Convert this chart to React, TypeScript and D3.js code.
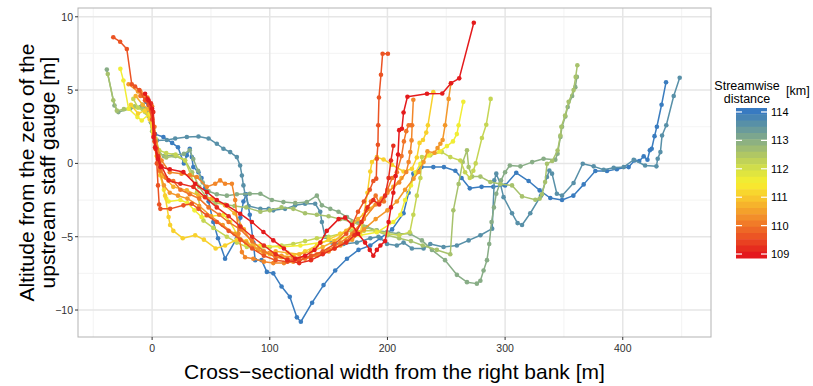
import React from 'react';
import * as d3 from 'd3';

type P = [number, number];

const xTicks = [0, 100, 200, 300, 400];
const yTicks = [-10, -5, 0, 5, 10];
const xMinor = [-50, 50, 150, 250, 350, 450];
const yMinor = [-7.5, -2.5, 2.5, 7.5];
const legendTicks = [109, 110, 111, 112, 113, 114];
const kmStops = [109, 109.5, 110, 110.5, 111, 111.5, 112, 112.5, 113, 113.5, 114];
const colorStops = ['#e41a1c', '#ea4a22', '#f07528', '#f4a02b', '#f8c92d', '#f8f02f', '#d4df48', '#afc765', '#88ad86', '#5f95a2', '#3a7cbf'];

const kmValues = [114.0, 113.6, 113.0, 112.6, 112.2, 111.6, 111.1, 110.7, 110.4, 110.2, 110.0, 109.6, 109.2, 109.0];

const sec114_0: P[] = [[-5,4.2],[-3,3.6],[0,2.8],[2.5,2.0],[9.6,1.8],[17,1.4],[22,1.1],[27,0.0],[29.5,0.55],[32,1.0],[33.7,0.43],[35,-0.25],[39.4,-0.6],[42,-1.0],[45,-1.7],[48,-2.6],[52,-4.0],[56,-5.1],[62,-6.5],[72,-5.1],[75,-3.7],[77.6,-2.6],[80,-2.1],[83,-3.5],[86,-5.4],[87.6,-6.6],[93,-6.6],[97.5,-7.4],[103,-7.5],[110,-8.4],[117,-9.1],[123,-10.5],[126.4,-10.8],[136,-9.5],[145.7,-8.3],[155.6,-7.3],[165.6,-6.5],[175.4,-5.9],[185.4,-5.6],[194,-5.1],[204,-4.5],[213.7,-3.4],[218,-2.0],[222,-0.7],[229,-0.25],[239,-0.25],[248,-0.25],[257.7,-0.5],[263,-1.0],[270,-1.7],[280,-1.6],[290,-1.6],[300,-1.5],[309.5,-0.64],[320,-1.2],[329.4,-1.84],[338.4,-2.36],[348.4,-2.5],[358,-2.2],[366.8,-1.43],[376.7,-0.52],[386.6,-0.52],[395,-0.39],[405,-0.25],[410,0.2],[414,0.16],[417.8,0.48],[421,0.25],[423,0.9],[424.6,1.0],[427,1.86],[429,2.5],[433,4.0],[436.8,5.54]];
const sec113_6: P[] = [[-8,4.0],[-4,3.4],[-1,2.8],[2,1.7],[4,1.57],[12.5,1.6],[19.6,1.7],[29.5,1.8],[39.4,1.84],[48,1.7],[55,1.34],[60.6,1.0],[66.3,0.77],[72,0.43],[74.8,-0.14],[76.3,-0.82],[77.6,-1.5],[79,-2.1],[82,-2.9],[92,-3.1],[99,-3.1],[103,-3.2],[113,-3.1],[121.6,-2.86],[130,-2.75],[138.6,-2.75],[142.9,-3.3],[144.3,-4.0],[147,-5.0],[152.8,-5.4],[162.7,-5.5],[174,-5.4],[185.4,-5.1],[192.4,-5.0],[199.6,-5.5],[208,-5.6],[213.7,-5.4],[220.8,-5.8],[230.7,-5.8],[236.4,-5.5],[247.7,-5.7],[259,-5.6],[269,-5.25],[279,-4.9],[289,-4.45],[290.8,-1.16],[292.5,-0.7],[296,-1.4],[298.7,-2.3],[305.9,-3.4],[310.6,-4.07],[314.4,-4.2],[321.4,-3.4],[330.5,-2.2],[335.6,-0.93],[337.6,-0.48],[339.9,-0.7],[344,-2.07],[348.4,-2.2],[358.2,-1.34],[366,-0.02],[375.3,-0.2],[383.8,-0.43],[392.3,-0.3],[400.8,-0.25],[409.3,0.25],[419,-0.14],[428.6,-0.2],[429.7,0.32],[432,0.77],[433.4,1.9],[437,2.6],[443.3,4.6],[448.4,5.84]];
const sec113_0: P[] = [[-38.5,6.4],[-32,3.95],[-28.7,3.5],[-18.7,3.73],[-10,3.84],[-5,3.7],[-1,3.0],[2,1.6],[5,0.8],[10,0.5],[18,0.55],[27,0.65],[32,0.9],[35,0.3],[39,-0.5],[43,-1.3],[48,-1.9],[55,-2.1],[63.5,-2.2],[72,-2.1],[83,-2.07],[92,-2.07],[101.8,-2.5],[111.6,-2.64],[121.6,-2.7],[131.5,-2.64],[140,-2.2],[144.3,-2.86],[151.4,-3.1],[158.4,-3.3],[165.6,-3.66],[174,-4.0],[182.6,-4.34],[191,-4.57],[199.6,-4.68],[209.4,-4.8],[219.4,-4.8],[229.3,-5.25],[237.8,-5.9],[249,-6.6],[259,-7.6],[267.6,-8.1],[276,-8.2],[279,-8.0],[281.7,-7.3],[284.6,-6.6],[286.5,-5.5],[288.5,-4.0],[290.5,-3.0],[292.5,-2.07],[296.5,-1.16],[300,-0.6],[304,-0.14],[313,-0.2],[323,0.09],[332.7,0.32],[342.7,0.25],[344.6,0.66],[347,1.8],[348.4,2.5],[351.2,3.2],[353.2,3.84],[357,4.6],[359.7,5.2],[361,5.9]];
const sec112_6: P[] = [[-37.7,6.1],[-33,4.3],[-30,3.6],[-24,3.7],[-15,3.9],[-8,3.7],[-3,3.2],[0,2.2],[3,1.2],[6,0.7],[12,0.4],[20,0.5],[28,0.2],[34,-0.6],[40,-1.6],[46,-2.3],[54,-2.7],[62,-2.8],[70,-2.9],[80,-3.0],[92,-3.3],[100,-3.2],[110,-3.0],[120,-3.1],[130,-3.4],[140,-3.5],[150,-3.6],[160,-3.8],[170,-4.0],[180,-4.3],[190,-4.6],[200,-4.9],[210,-5.1],[220,-5.3],[230,-5.6],[242,-5.9],[253.4,-6.2],[256,-3.2],[260.5,-1.4],[264,0.1],[267.6,0.9],[269,-0.25],[272,-0.9],[279,-0.9],[287.4,-1.27],[296,-1.4],[305.9,-1.5],[314.4,-2.25],[325.7,-2.48],[329.4,-2.4],[331.4,-2.1],[334,-1.27],[335.6,-0.02],[340,0.16],[344.6,0.88],[347,1.9],[347.8,2.5],[351,3.27],[354,4.2],[358.2,5.0],[360,5.9],[361.4,6.7]];
const sec112_2: P[] = [[-16,4.4],[-12,3.8],[-6,3.5],[-2,3.2],[0,2.5],[3,1.7],[6,0.9],[12,0.7],[20,0.6],[28,0.2],[33,-0.8],[38,-2.0],[43.6,-3.9],[52,-4.4],[63.5,-5.0],[72,-5.4],[80.5,-5.7],[90,-5.8],[100,-5.7],[110,-5.6],[120,-5.5],[130,-5.3],[140,-5.1],[150,-5.0],[160,-4.8],[170,-4.6],[180,-4.6],[190,-4.6],[200,-4.8],[210,-4.9],[219,-4.7],[222,-3.5],[225,-2.2],[228,-1.0],[229.3,0.43],[236.4,0.55],[246.3,0.77],[253.4,0.43],[261.9,0.2],[266,-0.6],[270,-1.0],[273,-0.5],[275,0.0],[280.3,1.73],[284,2.64],[287.7,4.4]];
const sec111_6: P[] = [[-27,6.45],[-24.4,5.66],[-20,3.73],[-12.5,3.16],[-8.8,2.93],[-2.3,3.39],[1,2.2],[4,0.5],[7,-0.8],[10,-1.8],[12,-2.4],[14,-2.6],[24,-2.5],[30,-2.7],[36,-3.2],[42,-3.66],[50,-3.6],[60.6,-3.5],[66.3,-4.0],[72,-4.8],[80,-5.5],[92,-5.6],[109,-5.7],[126,-5.6],[143,-5.4],[160,-5.1],[177,-4.9],[191,-4.7],[205,-4.0],[211,-3.5],[215,-2.5],[220,-1.5],[224,-0.6],[228,-0.02],[235,0.55],[244.3,0.82],[250.6,1.18],[255.7,1.5],[259,2.0],[260.5,2.6],[264.5,4.2]];
const sec111_1: P[] = [[-18,4.0],[-12,3.4],[-6,3.6],[-2,3.0],[1,2.0],[4,0.5],[7,-0.8],[11,-2.2],[14,-3.66],[15.3,-4.2],[18,-4.6],[26,-5.1],[36.6,-4.9],[44,-5.2],[54,-5.8],[62,-5.6],[72,-5.2],[80,-5.3],[90,-5.9],[100,-6.2],[110,-6.4],[120,-6.3],[130,-6.0],[140,-5.6],[150,-5.2],[160,-4.8],[170,-4.3],[177,-4.7],[180,-3.5],[183,-2.0],[185.4,-0.55],[186.8,0.09],[191,0.43],[196.7,0.27],[203.8,-0.09],[213.7,-0.55],[220.8,-0.36],[225,0.4],[227.3,1.4],[230.2,1.6],[233,2.1],[234.4,2.6],[239,4.86]];
const sec110_7: P[] = [[-14,4.6],[-8,4.0],[-3,3.7],[0,3.1],[3,1.4],[6,0.0],[10,-0.9],[18,-1.6],[29.5,-1.84],[39.4,-2.2],[50.8,-2.4],[62,-2.86],[70,-3.4],[78,-4.5],[86,-5.6],[95,-6.2],[105,-6.0],[115,-6.1],[125,-6.2],[135,-6.0],[145,-5.7],[155,-5.3],[165,-4.6],[175,-3.8],[185,-3.1],[195,-2.4],[205,-1.6],[212,-1.0]];
const sec110_4: P[] = [[-20,5.4],[-12,4.9],[-5,4.5],[0,3.5],[3,1.0],[6,-0.5],[10,-1.5],[15,-2.0],[22,-2.2],[30,-2.4],[40,-2.9],[50,-3.6],[60,-4.2],[70,-4.8],[80,-5.4],[90,-5.9],[100,-6.1],[110,-6.3],[120,-6.4],[130,-6.4],[140,-6.3],[150,-6.0],[160,-5.6],[170,-5.2],[180,-4.5],[190,-3.8],[200,-3.2],[208,-2.6],[215,-1.8],[222.2,-1.04],[226.5,-0.59],[230.7,0.09],[234,0.82],[240,0.73],[242.6,1.05],[245,1.34],[246.9,1.6],[249,2.6],[252,4.4],[254,5.47]];
const sec110_2: P[] = [[-10,4.9],[-4,4.5],[0,3.5],[3,1.5],[8,0.2],[15,-0.6],[25,-0.7],[32,-0.8],[38,-0.93],[46.5,-1.6],[53.6,-1.39],[57.8,-1.16],[62,-1.39],[67.8,-1.39],[70.6,-2.5],[73.4,-4.8],[76.3,-6.05],[79,-6.4],[86,-6.5],[95,-6.7],[103,-6.8],[112,-6.8],[120,-6.7],[130,-6.5],[140,-6.2],[150,-5.9],[160,-5.4],[170,-4.8],[180,-3.8],[190,-2.8],[200,-2.0],[210,-1.3],[216,-0.59],[218,0.09],[219.4,0.77],[220.5,1.57],[221,2.6],[222,4.34]];
const sec110_0: P[] = [[-10,4.6],[-5,4.4],[0,3.9],[2,2.5],[4,1.0],[7,-0.5],[12,-1.0],[18,-1.2],[24,-1.8],[32,-2.1],[40,-2.4],[48,-3.0],[57,-3.5],[65,-4.0],[75,-4.5],[85,-5.3],[95,-6.0],[105,-6.4],[115,-6.5],[125,-6.6],[135,-6.4],[145,-6.1],[155,-5.8],[165,-5.3],[172,-4.7],[178,-4.0],[182,-3.2],[186,-2.6],[190,-2.2],[193,-2.7],[197,-2.6],[200,-1.8],[204,-1.0],[208,-0.6],[212,0.5],[214,1.5],[216,2.2],[218,2.6],[220.2,2.6]];
const sec109_6: P[] = [[-33,8.6],[-27.2,8.3],[-21.5,7.8],[-17.3,5.4],[-14.5,5.25],[-10.8,5.0],[-6,4.3],[-3,4.0],[0,3.0],[2,1.5],[4,0],[5,-1.5],[6,-2.8],[7,-3.1],[15.3,-3.1],[26.6,-2.86],[33.7,-2.75],[39.4,-3.1],[46.5,-3.54],[55,-4.0],[65,-4.6],[75,-5.2],[85,-5.8],[95,-6.3],[105,-6.6],[115,-6.7],[125,-6.6],[135,-6.3],[145,-6.0],[155,-5.5],[165,-4.8],[170,-4.2],[175,-3.3],[180,-2.6],[185,-1.8],[188,-1.2],[190.5,-1.04],[191,0.32],[191.9,1.27],[192.2,2.6],[192.8,4.5],[194.5,6.05],[195.9,7.48],[200.4,7.48]];
const sec109_2: P[] = [[-4,4.4],[-1,4.1],[1,3.5],[2,2.0],[3,1.0],[5,0.5],[8,-0.2],[14,-1.16],[24,-1.39],[35,-1.6],[45,-2.3],[55,-3.0],[65,-3.6],[75,-4.3],[85,-5.0],[95,-5.6],[105,-6.2],[115,-6.6],[125,-6.8],[135,-6.6],[145,-6.2],[155,-5.8],[165,-5.4],[172,-4.9],[178,-4.0],[183,-3.0],[188,-2.5],[193,-2.8],[198,-2.2],[201,-1.0],[203,0.2],[205,1.2]];
const sec109_0: P[] = [[-6,4.75],[-3,4.3],[0,3.73],[1.1,1.8],[2.5,1.1],[5,0.3],[7,-0.25],[15,-0.4],[26.6,-0.59],[36.6,-1.39],[46.5,-1.95],[55,-2.5],[63.5,-2.86],[74.8,-3.43],[84.8,-4.0],[94.6,-4.68],[103,-5.25],[112,-5.8],[121.6,-6.5],[130,-6.3],[138,-5.9],[143,-5.4],[148.5,-4.6],[158.5,-3.8],[164,-3.7],[170,-4.2],[175,-4.8],[181,-5.4],[185,-5.9],[188,-6.3],[191,-5.9],[194,-5.6],[198,-5.3],[201,-4.0],[203,-3.0],[205,-2.0],[207,-0.86],[209,0.61],[210,2.27],[212.3,2.36],[213.7,3.47],[217,4.55],[233.6,4.75],[246.6,4.77],[254,5.47],[261,5.8],[273.4,9.59]];

const sectionPoints = [sec114_0, sec113_6, sec113_0, sec112_6, sec112_2, sec111_6, sec111_1, sec110_7, sec110_4, sec110_2, sec110_0, sec109_6, sec109_2, sec109_0];

const W = 813, H = 386;
const PL = 78, PR = 711, PT = 8, PB = 337;
const FONT = '"Liberation Sans", Arial, Helvetica, sans-serif';

export default function App() {
  const x = d3.scaleLinear().domain([-63, 475]).range([PL, PR]);
  const y = d3.scaleLinear().domain([-11.84, 10.6]).range([PB, PT]);
  const color = d3.scaleLinear<string>().domain(kmStops).range(colorStops).interpolate(d3.interpolateRgb);
  const line = d3.line<P>().x(d => x(d[0])).y(d => y(d[1]));

  const barX = 736, barW = 31, barTop = 108, barBot = 258;
  const lg = d3.scaleLinear().domain([114.14, 108.86]).range([barTop, barBot]);
  const nBins = 24;
  const bins = d3.range(nBins).map(i => {
    const v0 = 114.14 - (i * (114.14 - 108.86)) / nBins;
    const v1 = 114.14 - ((i + 1) * (114.14 - 108.86)) / nBins;
    return { y0: lg(v0), y1: lg(v1), c: color((v0 + v1) / 2) };
  });

  const sections = kmValues.map((km, i) => ({ km, pts: sectionPoints[i] }));

  return (
    <svg width={W} height={H} style={{ position: 'absolute', left: 0, top: 0, background: '#fff' }} fontFamily={FONT}>
      <defs>
        <clipPath id="panel"><rect x={PL} y={PT} width={PR - PL} height={PB - PT} /></clipPath>
      </defs>
      <rect x={PL} y={PT} width={PR - PL} height={PB - PT} fill="#fff" />
      {xMinor.map(v => <line key={'xm' + v} x1={x(v)} x2={x(v)} y1={PT} y2={PB} stroke="#f5f5f5" strokeWidth={1.2} />)}
      {yMinor.map(v => <line key={'ym' + v} x1={PL} x2={PR} y1={y(v)} y2={y(v)} stroke="#f5f5f5" strokeWidth={1.2} />)}
      {xTicks.map(v => <line key={'xg' + v} x1={x(v)} x2={x(v)} y1={PT} y2={PB} stroke="#e6e6e6" strokeWidth={1.5} />)}
      {yTicks.map(v => <line key={'yg' + v} x1={PL} x2={PR} y1={y(v)} y2={y(v)} stroke="#e6e6e6" strokeWidth={1.5} />)}
      <g clipPath="url(#panel)">
        {sections.map(s => (
          <g key={s.km}>
            <path d={line(s.pts) || ''} fill="none" stroke={color(s.km)} strokeWidth={1.5} strokeLinejoin="round" />
            {s.pts.map((p, j) => <circle key={j} cx={x(p[0])} cy={y(p[1])} r={2.3} fill={color(s.km)} />)}
          </g>
        ))}
      </g>
      <rect x={PL} y={PT} width={PR - PL} height={PB - PT} fill="none" stroke="#b3b3b3" strokeWidth={1} />
      {xTicks.map(v => (
        <g key={'xt' + v}>
          <line x1={x(v)} x2={x(v)} y1={PB} y2={PB + 3} stroke="#333333" strokeWidth={1} />
          <text x={x(v)} y={PB + 15} textAnchor="middle" fontSize={10.5} fill="#303030">{v}</text>
        </g>
      ))}
      {yTicks.map(v => (
        <g key={'yt' + v}>
          <line x1={PL - 3} x2={PL} y1={y(v)} y2={y(v)} stroke="#333333" strokeWidth={1} />
          <text x={PL - 5} y={y(v) + 3.8} textAnchor="end" fontSize={10.5} fill="#303030">{v < 0 ? '\u2212' + Math.abs(v) : v}</text>
        </g>
      ))}
      <text x={(PL + PR) / 2} y={379} textAnchor="middle" fontSize={21} fill="#000">Cross−sectional width from the right bank [m]</text>
      <g transform={`translate(34, ${(PT + PB) / 2}) rotate(-90)`}>
        <text x={0} y={0} textAnchor="middle" fontSize={21} fill="#000">Altitude from the zero of the</text>
        <text x={0} y={21} textAnchor="middle" fontSize={21} fill="#000">upstream staff gauge [m]</text>
      </g>
      <text x={747} y={90} textAnchor="middle" fontSize={12.5} fill="#000">Streamwise</text>
      <text x={747} y={103} textAnchor="middle" fontSize={12.5} fill="#000">distance</text>
      <text x={786} y={95} fontSize={12.5} fill="#000">[km]</text>
      {bins.map((b, i) => <rect key={'b' + i} x={barX} y={b.y0} width={barW} height={b.y1 - b.y0 + 0.5} fill={b.c} />)}
      {legendTicks.map(v => (
        <g key={'lt' + v}>
          <line x1={barX} x2={barX + 6} y1={lg(v)} y2={lg(v)} stroke="#fff" strokeWidth={1.2} />
          <line x1={barX + barW - 6} x2={barX + barW} y1={lg(v)} y2={lg(v)} stroke="#fff" strokeWidth={1.2} />
          <text x={barX + barW + 4} y={lg(v) + 4} fontSize={11} fill="#000">{v}</text>
        </g>
      ))}
    </svg>
  );
}
